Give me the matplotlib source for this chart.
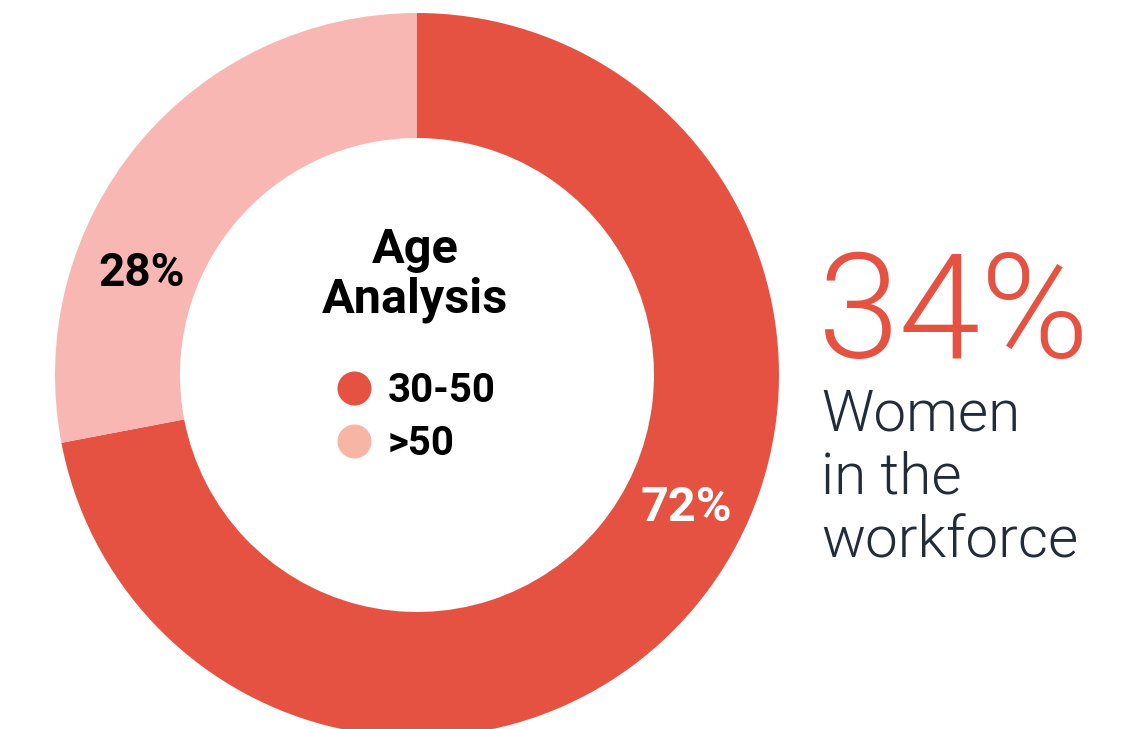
import matplotlib.pyplot as plt

plt.rcParams["font.family"] = ["Roboto", "DejaVu Sans"]

groups = ["30-50", ">50"]
shares = [72, 28]
ring_colors = ["#E55241", "#F9B7B3"]
dot_colors = ["#E55241", "#F7B5A6"]
headline = "34%"
caption = ["Women", "in the", "workforce"]

W, H = 1123, 729
fig = plt.figure(figsize=(W / 100, H / 100), dpi=100)
ax = fig.add_axes([0, 0, 1, 1])
ax.set_xlim(0, W)
ax.set_ylim(0, H)
ax.set_aspect("equal")
ax.axis("off")


def py(y):
    # flip from top-down pixel rows to axes units
    return H - y


cx, cy, r_out, ring = 417, py(375), 362, 125
ax.pie(shares, colors=ring_colors, startangle=90, counterclock=False,
       center=(cx, cy), radius=r_out,
       wedgeprops=dict(width=ring, linewidth=0))
ax.set_xlim(0, W)
ax.set_ylim(0, H)

# percentage labels on the ring
ax.text(686, py(521), f"{shares[0]}%", color="white", fontsize=35,
        fontweight="bold", ha="center", va="baseline")
ax.text(142, py(286), f"{shares[1]}%", color="black", fontsize=33,
        fontweight="bold", ha="center", va="baseline")

# centre title and legend
ax.text(415, py(263), "Age", fontsize=35, fontweight="bold",
        ha="center", va="baseline")
ax.text(415, py(312), "Analysis", fontsize=35, fontweight="bold",
        ha="center", va="baseline")
for i, (g, c) in enumerate(zip(groups, dot_colors)):
    y = 388 + i * 53
    ax.scatter([354], [py(y)], s=600, color=c, linewidths=0, zorder=3)
    ax.text(388, py(y + 14), g, fontsize=29, fontweight="bold",
            ha="left", va="baseline")

# headline figure on the right
ax.text(818, py(358), headline, color="#E55241", fontsize=106,
        fontweight=300, ha="left", va="baseline")
for i, line in enumerate(caption):
    ax.text(821, py(430 + i * 63.5), line, color="#222B38", fontsize=42,
            fontweight=300, ha="left", va="baseline")

fig.savefig("out.png", dpi=100)
